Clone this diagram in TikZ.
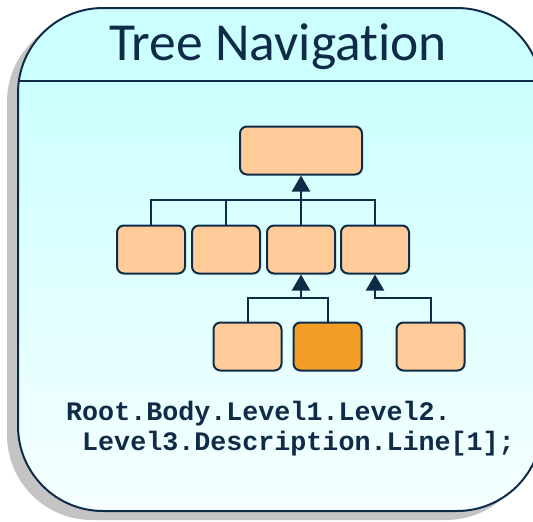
\documentclass[tikz,border=0pt]{standalone}
\usepackage{fontspec}
\newfontfamily\titlefont{Carlito}[Ligatures=NoCommon]
\newfontfamily\codefont{Liberation Mono}
\usetikzlibrary{arrows.meta}
\definecolor{navy}{HTML}{0E2B47}
\definecolor{hdrcyan}{HTML}{CCFFFF}
\definecolor{bodybot}{HTML}{F6FFFF}
\definecolor{boxfill}{HTML}{FFCC99}
\definecolor{boxsel}{HTML}{F39C26}
\definecolor{shadowgray}{HTML}{C4C4C4}
\tikzset{
  treebox/.style={draw=navy, line width=2pt, fill=boxfill, rounded corners=7pt, inner sep=0pt,
    minimum width=68pt, minimum height=48pt},
  selbox/.style={treebox, fill=boxsel},
  conn/.style={draw=navy, line width=2pt},
  arr/.style={conn, -{Triangle[length=16pt 0 0,width=18pt 0 0]}},
  titletext/.style={text=navy, font=\titlefont\fontsize{53.5}{60}\selectfont, inner sep=0pt},
  codetext/.style={text=navy, font=\codefont\bfseries\fontsize{26.7}{30}\selectfont, inner sep=0pt}
}
\begin{document}
\begin{tikzpicture}[x=1pt, y=-1pt]
\useasboundingbox (0,0) rectangle (533,522);
% shadow
\fill[shadowgray, rounded corners=85pt] (7,17) rectangle (531,520);
% card fills
\begin{scope}
  \clip[rounded corners=85pt] (18,8) rectangle (542,511);
  \fill[hdrcyan] (18,8) rectangle (542,81);
  \shade[top color=hdrcyan, bottom color=bodybot] (18,81) rectangle (542,511);
\end{scope}
\draw[navy, line width=2pt, rounded corners=85pt] (18,8) rectangle (542,511);
\draw[navy, line width=2pt] (18,81) -- (542,81);
% title
\node[titletext, anchor=base] (title) at (278,60) {Tree Navigation};
% tree
\node[treebox, minimum width=122pt] (root) at (301,150.5) {};
\node[treebox] (a1) at (151,249.5) {};
\node[treebox] (a2) at (226,249.5) {};
\node[treebox] (a3) at (301,249.5) {};
\node[treebox] (a4) at (375,249.5) {};
\node[treebox] (b1) at (247.5,346.5) {};
\node[selbox] (b2) at (327.5,346.5) {};
\node[treebox] (b3) at (430.5,346.5) {};
\coordinate (j1) at (301,200);
\coordinate (j2) at (301,298);
\draw[conn] (a1.north) |- (j1);
\draw[conn] (a2.north) |- (j1);
\draw[conn] (a4.north) |- (j1);
\draw[conn] (a3.north) -- (j1);
\draw[arr] (j1) -- (root.south);
\draw[conn] (b1.north) |- (j2);
\draw[conn] (b2.north) |- (j2);
\draw[arr] (j2) -- (a3.south);
\draw[arr] (b3.north) |- (a4.south |- j2) -- (a4.south);
% code
\node[codetext, anchor=base west] (code1) at (66,420) {Root.Body.Level1.Level2.};
\node[codetext, anchor=base west] (code2) at (82,450) {Level3.Description.Line[1];};
\end{tikzpicture}
\end{document}
